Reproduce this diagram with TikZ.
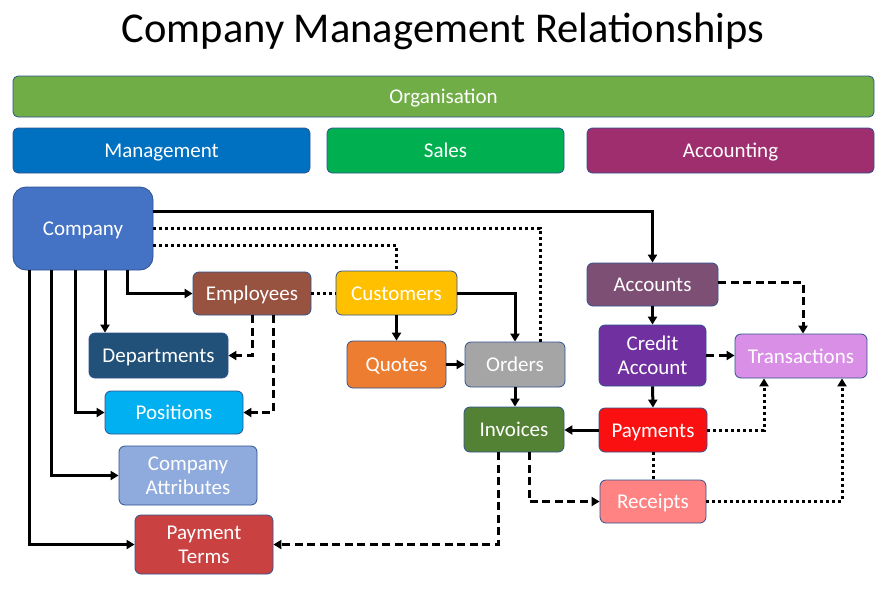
\documentclass[tikz,border=0pt]{standalone}
\usepackage{fontspec}
\setmainfont{Carlito}
\usetikzlibrary{arrows.meta,calc}
\definecolor{boxborder}{HTML}{2F528F}
\definecolor{cOrg}{HTML}{70AD47}
\definecolor{cMgmt}{HTML}{0070C0}
\definecolor{cSales}{HTML}{00B050}
\definecolor{cAcct}{HTML}{9E2E6E}
\definecolor{cCompany}{HTML}{4472C4}
\definecolor{cEmp}{HTML}{985240}
\definecolor{cDept}{HTML}{215179}
\definecolor{cPos}{HTML}{00B0F0}
\definecolor{cAttr}{HTML}{8FAADC}
\definecolor{cTerms}{HTML}{C94141}
\definecolor{cCust}{HTML}{FFC000}
\definecolor{cQuotes}{HTML}{ED7D31}
\definecolor{cOrders}{HTML}{A5A5A5}
\definecolor{cInv}{HTML}{548235}
\definecolor{cAccounts}{HTML}{7E4F74}
\definecolor{cCredit}{HTML}{7030A0}
\definecolor{cTrans}{HTML}{D98FE6}
\definecolor{cPay}{HTML}{FA1010}
\definecolor{cRec}{HTML}{FF8383}
\begin{document}
\begin{tikzpicture}[x=1pt,y=-1pt,
  box/.style={draw=boxborder, line width=0.8pt, rounded corners=6pt, text=white,
    font=\fontsize{21}{24}\selectfont, align=center, inner sep=0pt},
  one/.style={text height=16.5pt, text depth=2.5pt},
  band/.style={box, one, rounded corners=5pt},
  conn/.style={line width=3pt},
  tip/.style={-{Triangle[length=8pt,width=9pt]}},
  arr/.style={conn, tip},
  dashline/.style={conn, dash pattern=on 8pt off 4.5pt},
  dotline/.style={conn, dash pattern=on 3pt off 3pt},
]
\useasboundingbox (0,0) rectangle (889,595);
\node[font=\fontsize{42.5}{46}\selectfont] (title) at (443,31) {Company Management Relationships};

\node[band, fill=cOrg, minimum width=861pt, minimum height=41pt] (org) at (443.5,96.5) {Organisation};
\node[band, fill=cMgmt, minimum width=297pt, minimum height=45pt] (mgmt) at (161.5,150.5) {Management};
\node[band, fill=cSales, minimum width=237pt, minimum height=45pt] (sales) at (445.5,150.5) {Sales};
\node[band, fill=cAcct, minimum width=287pt, minimum height=45pt] (acct) at (730.5,150.5) {Accounting};

\node[box, one, rounded corners=13pt, fill=cCompany, minimum width=140pt, minimum height=83pt] (company) at (83,228.5) {Company};
\node[box, one, fill=cEmp, minimum width=118pt, minimum height=43pt] (emp) at (252,293.5) {Employees};
\node[box, one, fill=cDept, minimum width=139pt, minimum height=45pt] (dept) at (158.5,355.5) {Departments};
\node[box, one, fill=cPos, minimum width=138pt, minimum height=43pt] (pos) at (174,412.5) {Positions};
\node[box, fill=cAttr, minimum width=138pt, minimum height=59pt] (attr) at (188,475.5) {Company\\Attributes};
\node[box, fill=cTerms, minimum width=138pt, minimum height=59pt] (terms) at (204,544.5) {Payment\\Terms};
\node[box, one, fill=cCust, minimum width=121pt, minimum height=44pt] (cust) at (396.5,293) {Customers};
\node[box, one, fill=cQuotes, minimum width=99pt, minimum height=47pt] (quotes) at (396.5,364.5) {Quotes};
\node[box, one, fill=cOrders, minimum width=100pt, minimum height=45pt] (orders) at (515,364.5) {Orders};
\node[box, one, fill=cInv, minimum width=100pt, minimum height=45pt] (inv) at (514,429.5) {Invoices};
\node[box, one, fill=cAccounts, minimum width=131pt, minimum height=43pt] (accounts) at (652.5,284.5) {Accounts};
\node[box, fill=cCredit, minimum width=107pt, minimum height=61pt] (credit) at (652.5,355.5) {Credit\\Account};
\node[box, one, fill=cTrans, minimum width=132pt, minimum height=44pt] (trans) at (801,356) {Transactions};
\node[box, one, fill=cPay, minimum width=108pt, minimum height=44pt] (pay) at (653,430) {Payments};
\node[box, one, fill=cRec, minimum width=106pt, minimum height=43pt] (rec) at (653,501.5) {Receipts};

% helper coordinates
\coordinate (Y211) at (0,211);
\coordinate (Y228) at (0,228);
\coordinate (Y245) at (0,245);
\coordinate (Y282) at (0,282);
\coordinate (X29) at (29,0);
\coordinate (X51) at (51,0);
\coordinate (X75) at (75,0);
\coordinate (X105) at (105,0);
\coordinate (X127) at (127,0);
\coordinate (X252) at (252,0);
\coordinate (X273) at (273,0);
\coordinate (X540) at (540,0);
\coordinate (X764) at (764,0);
\coordinate (X842) at (842,0);
\coordinate (X803) at (803,0);
\coordinate (X529) at (529,0);
\coordinate (X498) at (498,0);

% Company connectors
\draw[arr] (company.east |- Y211) -| (accounts.north);
\draw[dotline] (company.east |- Y228) -| (orders.north -| X540);
\draw[dotline] (company.east |- Y245) -| (cust.north);
\draw[arr] (company.south -| X127) |- (emp.west);
\draw[arr] (company.south -| X105) -- (dept.north -| X105);
\draw[arr] (company.south -| X75) |- (pos.west);
\draw[arr] (company.south -| X51) |- (attr.west);
\draw[arr] (company.south -| X29) |- (terms.west);

% Employees
\draw[dashline, tip] (emp.south -| X252) |- (dept.east);
\draw[dashline, tip] (emp.south -| X273) |- (pos.east);
\draw[dotline] (emp.east) -- (emp.east -| cust.west);

% Sales
\draw[arr] (cust.south) -- (quotes.north);
\draw[arr] (cust.east) -| (orders.north);
\draw[arr] (quotes.east) -- (quotes.east -| orders.west);
\draw[arr] (orders.south) -- (orders.south |- inv.north);

% Accounting
\draw[arr] (accounts.south) -- (credit.north);
\draw[dashline, tip] (accounts.east |- Y282) -| (trans.north -| X803);
\draw[dashline, tip] (credit.east) -- (credit.east -| trans.west);
\draw[arr] (credit.south) -- (pay.north);
\draw[arr] (pay.west) -- (pay.west -| inv.east);
\draw[dotline, tip] (pay.east) -| (trans.south -| X764);
\draw[dotline] (pay.south) -- (rec.north);
\draw[dotline, tip] (rec.east) -| (trans.south -| X842);
\draw[dashline, tip] (inv.south -| X529) |- (rec.west);
\draw[dashline, tip] (inv.south -| X498) |- (terms.east);
\end{tikzpicture}
\end{document}
